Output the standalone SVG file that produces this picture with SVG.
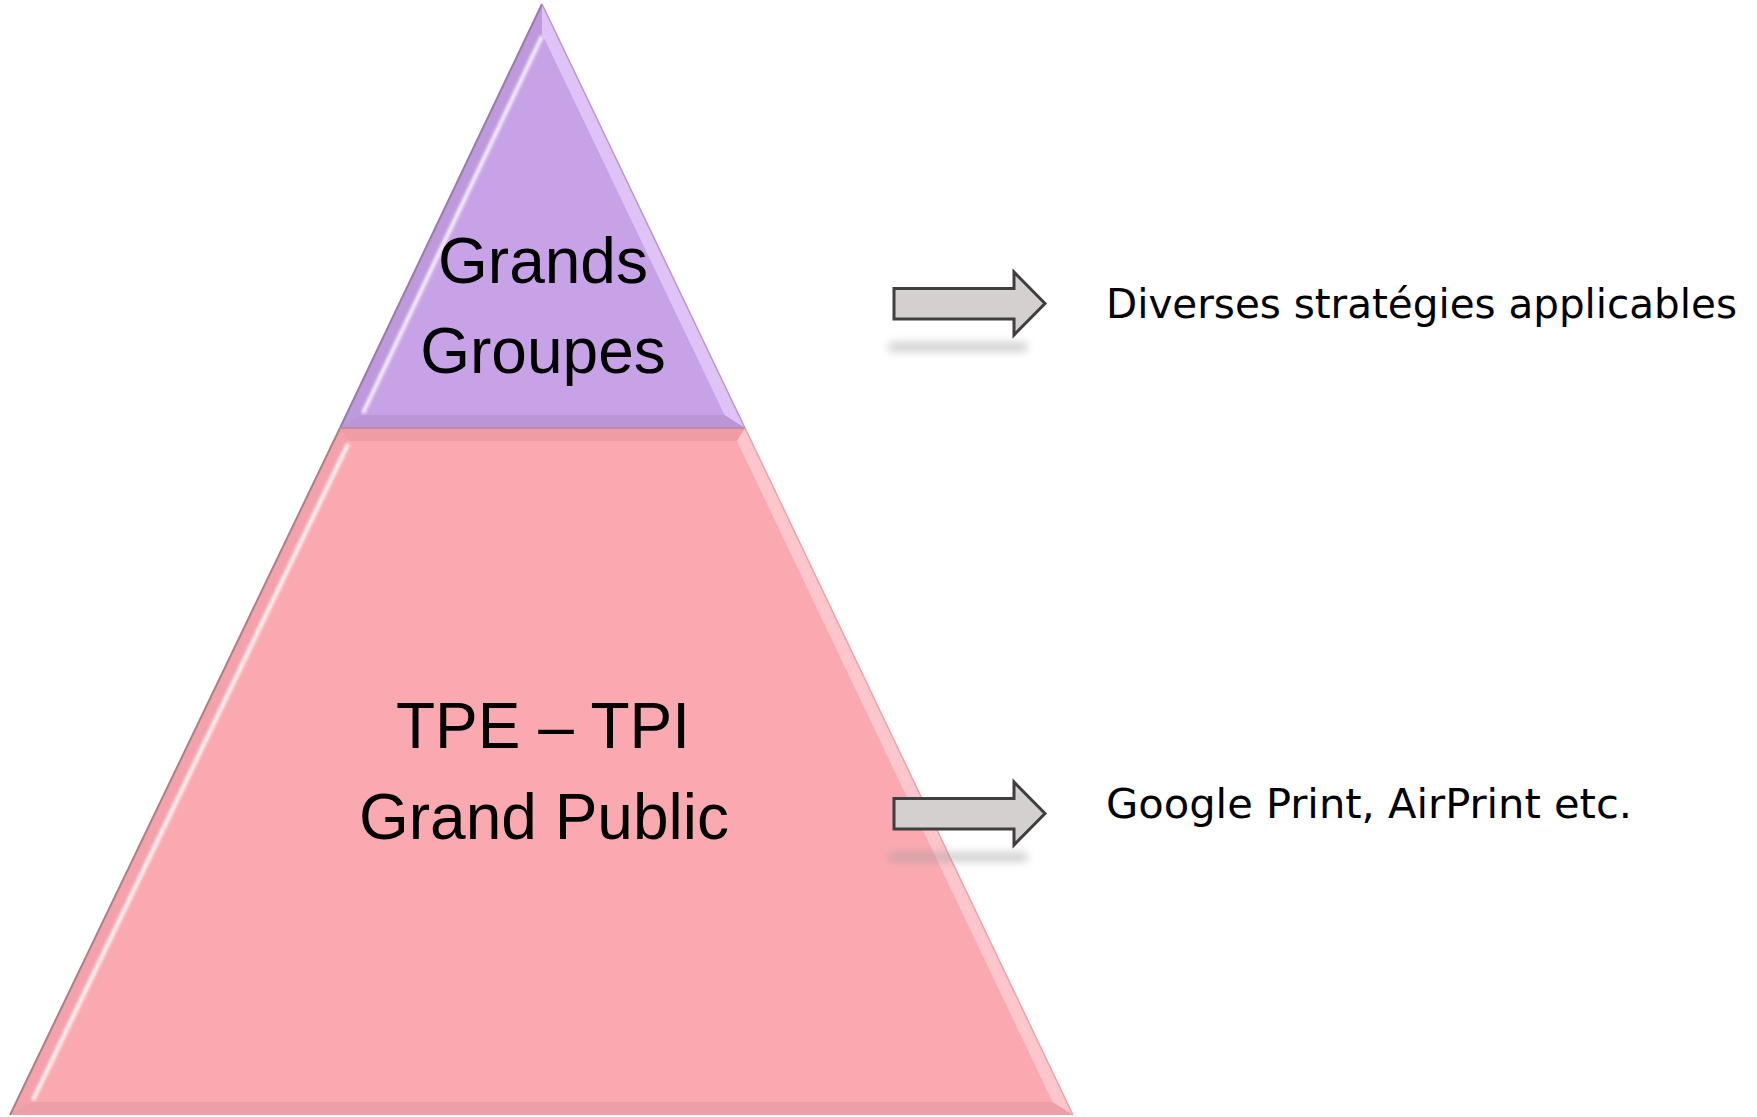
<svg xmlns="http://www.w3.org/2000/svg" width="1757" height="1117" viewBox="0 0 1757 1117">
<defs>
  <filter id="blur4" x="-20%" y="-200%" width="140%" height="500%"><feGaussianBlur stdDeviation="4"/></filter>
  <filter id="blur2" x="-10%" y="-10%" width="120%" height="120%"><feGaussianBlur stdDeviation="1.5"/></filter>
  <style>
    .lbl { font-family: "Liberation Sans", Arial, sans-serif; font-size: 64px; fill: #000; text-anchor: middle; }
    .side { font-family: "DejaVu Sans Condensed", "DejaVu Sans", sans-serif; font-size: 41px; fill: #000; }
    .arrow { fill: #D4D0CF; stroke: #3F3F3F; stroke-width: 3; stroke-linejoin: miter; }
    .shadow { fill: #9A9A9A; opacity: 0.45; }
  </style>
</defs>
<rect width="1757" height="1117" fill="#FFFFFF"/>

<g id="node-top">
  <polygon points="542,4 745,428 340,428" fill="#C8A2E6"/>
  <!-- left facet -->
  <polygon points="542,4 340,428 360.6,415 542,34" fill="#BE99DC"/>
  <!-- right facet -->
  <polygon points="542,4 745,428 724.4,415 542,34" fill="#E0C3F6"/>
  <!-- bottom facet -->
  <polygon points="340,428 745,428 724.4,415 360.6,415" fill="#BC95D6"/>
  <polygon points="542,34 724.4,415 360.6,415" fill="#C8A2E6"/>
  <line x1="542" y1="36" x2="363" y2="413" stroke="#FFFFFF" stroke-width="4" opacity="0.85" filter="url(#blur2)"/>
  <line x1="542" y1="4" x2="340" y2="428" stroke="#9A7BAE" stroke-width="2"/>
  <line x1="542" y1="4" x2="745" y2="428" stroke="#B995D4" stroke-width="1.5"/>
  <text class="lbl" x="543" y="283">Grands</text>
  <text class="lbl" x="543" y="373">Groupes</text>
</g>

<g id="node-bottom">
  <polygon points="340,428 745,428 1073,1115 10,1115" fill="#FBA9B1"/>
  <!-- top facet -->
  <polygon points="340,428 745,428 736.8,441 348.2,441" fill="#EE9CA5"/>
  <!-- left facet -->
  <polygon points="340,428 348.2,441 30.6,1102 10,1115" fill="#F3A2AB"/>
  <!-- right facet -->
  <polygon points="745,428 1073,1115 1052.4,1102 736.8,441" fill="#FDC6CC"/>
  <!-- bottom facet -->
  <polygon points="10,1115 1073,1115 1052.4,1102 30.6,1102" fill="#EE9EA6"/>
  <polygon points="348.2,441 736.8,441 1052.4,1102 30.6,1102" fill="#FBA9B1"/>
  <line x1="348" y1="444" x2="33" y2="1100" stroke="#FFFFFF" stroke-width="4" opacity="0.9" filter="url(#blur2)"/>
  <line x1="340" y1="428" x2="10" y2="1115" stroke="#B07E86" stroke-width="2"/>
  <line x1="745" y1="428" x2="1073" y2="1115" stroke="#F0A0A9" stroke-width="1.5"/>
  <line x1="340" y1="428" x2="745" y2="428" stroke="#B08A9E" stroke-width="1.5"/>
  <text class="lbl" x="543" y="748">TPE – TPI</text>
  <text class="lbl" x="544" y="839">Grand Public</text>
</g>

<g id="connectors">
  <g id="arrow-1">
    <rect class="shadow" x="888" y="342" width="140" height="10" rx="5" filter="url(#blur4)"/>
    <polygon class="arrow" points="894,288.5 1014,288.5 1014,272 1045,303.5 1014,335 1014,319 894,319"/>
  </g>
  <g id="arrow-2">
    <rect class="shadow" x="888" y="852" width="140" height="10" rx="5" filter="url(#blur4)"/>
    <polygon class="arrow" points="894,798.5 1014,798.5 1014,782 1045,813.5 1014,845 1014,829 894,829"/>
  </g>
</g>

<g id="label-1">
  <text class="side" x="1106" y="318" textLength="631" lengthAdjust="spacingAndGlyphs">Diverses stratégies applicables</text>
</g>
<g id="label-2">
  <text class="side" x="1106" y="818" textLength="526" lengthAdjust="spacingAndGlyphs">Google Print, AirPrint etc.</text>
</g>
</svg>
